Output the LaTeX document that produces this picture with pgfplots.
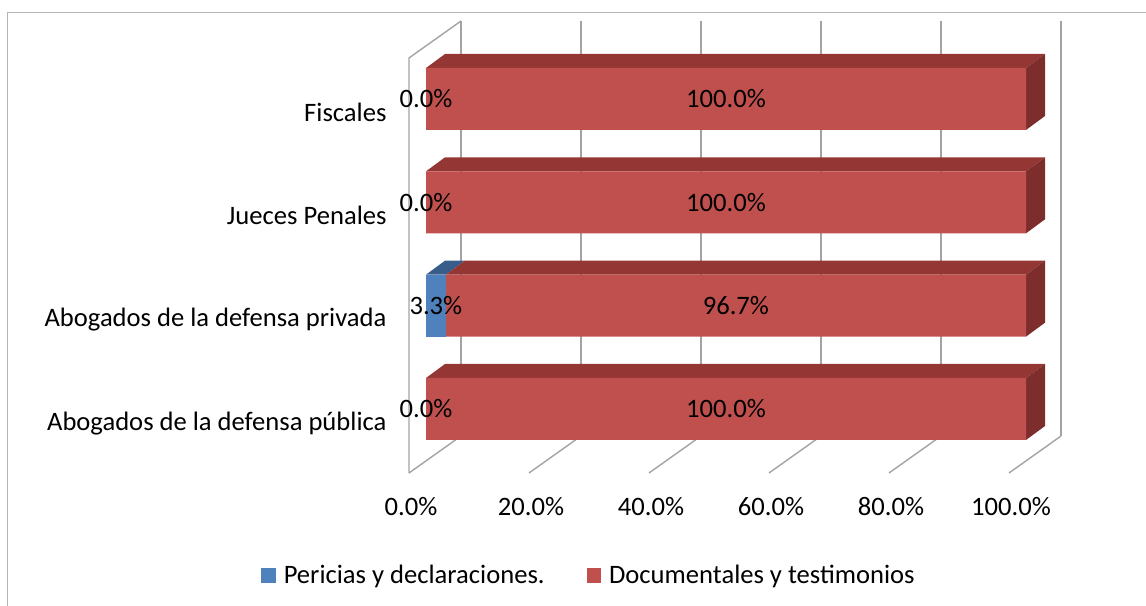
\documentclass[border=0pt]{standalone}
\usepackage{pgfplots}
\pgfplotsset{compat=1.18}
\usepackage{fontspec}
\setmainfont{Carlito}
\newcommand{\fs}{\fontsize{26.6bp}{32bp}\selectfont}
\definecolor{redfront}{HTML}{C0504D}
\definecolor{redtop}{HTML}{943634}
\definecolor{redside}{HTML}{7D2E2C}
\definecolor{bluefront}{HTML}{4F81BD}
\definecolor{bluetop}{HTML}{385D8A}
\definecolor{gridc}{HTML}{A3A3A3}
\definecolor{borderc}{HTML}{B4B4B4}
\pgfplotsset{
  base3d/.style={
    at={(409bp,133bp)}, anchor=south west,
    scale only axis, width=652bp, height=452bp,
    xmin=-2.8333, xmax=105.8333, ymin=-0.6194, ymax=3.7548,
    clip=false,
    axis line style={draw=none},
    major tick length=0pt, minor tick length=0pt,
    tick style={draw=none},
  }
}
\begin{document}
\begin{tikzpicture}
\useasboundingbox (0,0) rectangle (1146bp,606bp);
\draw[borderc, line width=1.3bp] (7.5bp,0) -- (7.5bp,593.5bp) -- (1146bp,593.5bp);

% Axis A: 3D walls, grid lines, top and side faces
\begin{axis}[base3d, xtick=\empty, ytick=\empty]
  \draw[gridc, line width=1.4bp] (axis cs:-2.8333,-0.6194) -- (axis cs:-2.8333,3.397) -- (axis cs:5.8333,3.7548);
  \draw[gridc, line width=1.4bp] (axis cs:5.8333,-0.2614) -- (axis cs:5.8333,3.7548);
  \draw[gridc, line width=1.4bp] (axis cs:25.8333,-0.2614) -- (axis cs:25.8333,3.7548);
  \draw[gridc, line width=1.4bp] (axis cs:45.8333,-0.2614) -- (axis cs:45.8333,3.7548);
  \draw[gridc, line width=1.4bp] (axis cs:65.8333,-0.2614) -- (axis cs:65.8333,3.7548);
  \draw[gridc, line width=1.4bp] (axis cs:85.8333,-0.2614) -- (axis cs:85.8333,3.7548);
  \draw[gridc, line width=1.4bp] (axis cs:105.8333,-0.2614) -- (axis cs:105.8333,3.7548);
  \draw[gridc, line width=1.4bp] (axis cs:-2.8333,-0.6194) -- (axis cs:5.8333,-0.2614);
  \draw[gridc, line width=1.4bp] (axis cs:17.1667,-0.6194) -- (axis cs:25.8333,-0.2614);
  \draw[gridc, line width=1.4bp] (axis cs:37.1667,-0.6194) -- (axis cs:45.8333,-0.2614);
  \draw[gridc, line width=1.4bp] (axis cs:57.1667,-0.6194) -- (axis cs:65.8333,-0.2614);
  \draw[gridc, line width=1.4bp] (axis cs:77.1667,-0.6194) -- (axis cs:85.8333,-0.2614);
  \draw[gridc, line width=1.4bp] (axis cs:97.1667,-0.6194) -- (axis cs:105.8333,-0.2614);
  % Fiscales (y=3)
  \addplot[fill=redtop, draw=none] coordinates {(0,3.3) (100,3.3) (103.1667,3.4355) (3.1667,3.4355)} -- cycle;
  \addplot[fill=redside, draw=none] coordinates {(100,2.7) (100,3.3) (103.1667,3.4355) (103.1667,2.8355)} -- cycle;
  % Jueces Penales (y=2)
  \addplot[fill=redtop, draw=none] coordinates {(0,2.3) (100,2.3) (103.1667,2.4355) (3.1667,2.4355)} -- cycle;
  \addplot[fill=redside, draw=none] coordinates {(100,1.7) (100,2.3) (103.1667,2.4355) (103.1667,1.8355)} -- cycle;
  % Abogados de la defensa privada (y=1)
  \addplot[fill=bluetop, draw=none] coordinates {(0,1.3) (3.3,1.3) (6.4667,1.4355) (3.1667,1.4355)} -- cycle;
  \addplot[fill=redtop, draw=none] coordinates {(3.3,1.3) (100,1.3) (103.1667,1.4355) (6.4667,1.4355)} -- cycle;
  \addplot[fill=redside, draw=none] coordinates {(100,0.7) (100,1.3) (103.1667,1.4355) (103.1667,0.8355)} -- cycle;
  % Abogados de la defensa publica (y=0)
  \addplot[fill=redtop, draw=none] coordinates {(0,0.3) (100,0.3) (103.1667,0.4355) (3.1667,0.4355)} -- cycle;
  \addplot[fill=redside, draw=none] coordinates {(100,-0.3) (100,0.3) (103.1667,0.4355) (103.1667,-0.1645)} -- cycle;
\end{axis}

% Axis B: stacked bars, ticks, legend
\begin{axis}[base3d,
  xbar stacked, bar width=0.6,
  xtick={-2.8333,17.1667,37.1667,57.1667,77.1667,97.1667},
  xticklabels={0.0\%,20.0\%,40.0\%,60.0\%,80.0\%,100.0\%},
  ytick={-0.14,0.865,1.87,2.875},
  yticklabels={Abogados de la defensa pública,Abogados de la defensa privada,Jueces Penales,Fiscales},
  xticklabel style={font=\fs, yshift=-21bp, xshift=2bp},
  yticklabel style={font=\fs, xshift=-19bp},
  legend style={at={(0.276,-0.2257)}, anchor=center, draw=none, fill=none,
    font=\fs, legend columns=2,
    /tikz/every odd column/.append style={column sep=6bp},
    /tikz/every even column/.append style={column sep=40bp}},
  legend image code/.code={\fill[#1] (0bp,-7.5bp) rectangle (14.5bp,7bp);},
]
  \addplot[fill=bluefront, draw=none] coordinates {(0,0) (3.3,1) (0,2) (0,3)};
  \addplot[fill=redfront, draw=none] coordinates {(100,0) (96.7,1) (100,2) (100,3)};
  \legend{Pericias y declaraciones., Documentales y testimonios}
\end{axis}

% Axis C: data labels at segment centres
\begin{axis}[base3d, xtick=\empty, ytick=\empty]
  \addplot[draw=none, mark=none, nodes near coords, point meta=explicit symbolic,
    nodes near coords align=center, every node near coord/.append style={font=\fs, text=black}]
    coordinates {(0,0)[0.0\%] (1.65,1)[3.3\%] (0,2)[0.0\%] (0,3)[0.0\%]};
  \addplot[draw=none, mark=none, nodes near coords, point meta=explicit symbolic,
    nodes near coords align=center, every node near coord/.append style={font=\fs, text=black}]
    coordinates {(50,0)[100.0\%] (51.65,1)[96.7\%] (50,2)[100.0\%] (50,3)[100.0\%]};
\end{axis}
\end{tikzpicture}
\end{document}
